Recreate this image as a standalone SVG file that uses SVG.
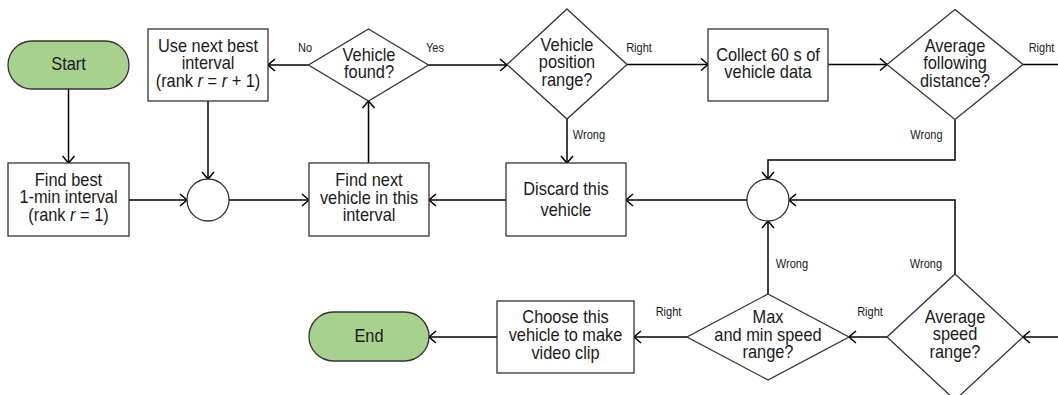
<svg xmlns="http://www.w3.org/2000/svg" width="1058" height="395" viewBox="0 0 1058 395">
<defs>
<style>
.box{fill:#fff;stroke:#333;stroke-width:1.3}
.term{fill:#a9d18e;stroke:#333;stroke-width:1.3}
.c{fill:none;stroke:#000;stroke-width:1.5}
.t{font-family:"Liberation Sans",Arial,sans-serif;font-size:18px;text-anchor:middle;fill:#1a1a1a}
.s{font-family:"Liberation Sans",Arial,sans-serif;font-size:12px;text-anchor:middle;fill:#1a1a1a}
.i{font-style:italic}
</style>
<marker id="arr" viewBox="0 0 10 14" markerWidth="10" markerHeight="14" refX="8.5" refY="7" orient="auto" markerUnits="userSpaceOnUse">
<path d="M1.5,1 L8.5,7 L1.5,13" fill="none" stroke="#000" stroke-width="1.5"/>
</marker>
</defs>
<rect width="1058" height="395" fill="#fff"/>

<g id="connectors">
<path class="c" d="M68.5,89 V163" marker-end="url(#arr)"/>
<path class="c" d="M129,200 H187" marker-end="url(#arr)"/>
<path class="c" d="M208,101 V179" marker-end="url(#arr)"/>
<path class="c" d="M229,200 H309" marker-end="url(#arr)"/>
<path class="c" d="M368.5,163 V101" marker-end="url(#arr)"/>
<path class="c" d="M308.5,65 H268" marker-end="url(#arr)"/>
<path class="c" d="M428.5,65 H507" marker-end="url(#arr)"/>
<path class="c" d="M627,64.5 H708" marker-end="url(#arr)"/>
<path class="c" d="M567,119 V163" marker-end="url(#arr)"/>
<path class="c" d="M506,200 H429" marker-end="url(#arr)"/>
<path class="c" d="M828,64.5 H887" marker-end="url(#arr)"/>
<path class="c" d="M1023,64.5 H1058"/>
<path class="c" d="M955,119.5 V160 H768 V179" marker-end="url(#arr)"/>
<path class="c" d="M747,200 H626" marker-end="url(#arr)"/>
<path class="c" d="M955,274 V200 H789" marker-end="url(#arr)"/>
<path class="c" d="M768,294 V221" marker-end="url(#arr)"/>
<path class="c" d="M1058,337 H1023" marker-end="url(#arr)"/>
<path class="c" d="M887,337 H849" marker-end="url(#arr)"/>
<path class="c" d="M687,337 H634" marker-end="url(#arr)"/>
<path class="c" d="M497,337 H429" marker-end="url(#arr)"/>
<text class="s" transform="translate(305,0) scale(.92,1)"><tspan x="0" y="52">No</tspan></text>
<text class="s" transform="translate(435,0) scale(.92,1)"><tspan x="0" y="52">Yes</tspan></text>
<text class="s" transform="translate(639,0) scale(.92,1)"><tspan x="0" y="52">Right</tspan></text>
<text class="s" transform="translate(1041.5,0) scale(.92,1)"><tspan x="0" y="52">Right</tspan></text>
<text class="s" transform="translate(589,0) scale(.92,1)"><tspan x="0" y="139.5">Wrong</tspan></text>
<text class="s" transform="translate(926.5,0) scale(.92,1)"><tspan x="0" y="139.5">Wrong</tspan></text>
<text class="s" transform="translate(792,0) scale(.92,1)"><tspan x="0" y="268">Wrong</tspan></text>
<text class="s" transform="translate(926,0) scale(.92,1)"><tspan x="0" y="268">Wrong</tspan></text>
<text class="s" transform="translate(870,0) scale(.92,1)"><tspan x="0" y="316.5">Right</tspan></text>
<text class="s" transform="translate(668.5,0) scale(.92,1)"><tspan x="0" y="316.5">Right</tspan></text>
</g>

<g id="start">
<rect class="term" x="8" y="41" width="121" height="48" rx="24" ry="24"/>
<text class="t" transform="translate(68.5,0) scale(.91,1)"><tspan x="0" y="70.5">Start</tspan></text>
</g>

<g id="find-best">
<rect class="box" x="8" y="163" width="121" height="73"/>
<text class="t" transform="translate(68.5,0) scale(.91,1)"><tspan x="0" y="186">Find best</tspan><tspan x="0" y="203.5">1-min interval</tspan><tspan x="0" y="221">(rank <tspan class="i">r</tspan> = 1)</tspan></text>
</g>

<g id="use-next">
<rect class="box" x="148" y="29" width="120" height="72"/>
<text class="t" transform="translate(208,0) scale(.91,1)"><tspan x="0" y="52">Use next best</tspan><tspan x="0" y="69.5">interval</tspan><tspan x="0" y="87">(rank <tspan class="i">r</tspan> = <tspan class="i">r</tspan> + 1)</tspan></text>
</g>

<g id="merge1">
<circle class="box" cx="208" cy="200" r="21"/>
</g>

<g id="vehicle-found">
<polygon class="box" points="368.5,29 428.5,65 368.5,101 308.5,65"/>
<text class="t" transform="translate(369,0) scale(.91,1)"><tspan x="0" y="61">Vehicle</tspan><tspan x="0" y="78">found?</tspan></text>
</g>

<g id="find-next">
<rect class="box" x="309" y="163" width="120" height="73"/>
<text class="t" transform="translate(369,0) scale(.91,1)"><tspan x="0" y="186.5">Find next</tspan><tspan x="0" y="204">vehicle in this</tspan><tspan x="0" y="221.5">interval</tspan></text>
</g>

<g id="vehicle-position">
<polygon class="box" points="567,9 627,64.5 567,119 507,64.5"/>
<text class="t" transform="translate(567,0) scale(.91,1)"><tspan x="0" y="51">Vehicle</tspan><tspan x="0" y="68.5">position</tspan><tspan x="0" y="86">range?</tspan></text>
</g>

<g id="discard">
<rect class="box" x="506" y="163" width="120" height="73"/>
<text class="t" transform="translate(566,0) scale(.91,1)"><tspan x="0" y="195">Discard this</tspan><tspan x="0" y="216.5">vehicle</tspan></text>
</g>

<g id="collect">
<rect class="box" x="708" y="29" width="120" height="72"/>
<text class="t" transform="translate(768,0) scale(.91,1)"><tspan x="0" y="61">Collect 60 s of</tspan><tspan x="0" y="78.5">vehicle data</tspan></text>
</g>

<g id="avg-following">
<polygon class="box" points="955,9.5 1023,64.5 955,119.5 887,64.5"/>
<text class="t" transform="translate(955,0) scale(.91,1)"><tspan x="0" y="52">Average</tspan><tspan x="0" y="69.5">following</tspan><tspan x="0" y="87">distance?</tspan></text>
</g>

<g id="merge2">
<circle class="box" cx="768" cy="200" r="21"/>
</g>

<g id="avg-speed">
<polygon class="box" points="955,274 1023,337 955,400 887,337"/>
<text class="t" transform="translate(955,0) scale(.91,1)"><tspan x="0" y="323">Average</tspan><tspan x="0" y="340.5">speed</tspan><tspan x="0" y="358">range?</tspan></text>
</g>

<g id="max-min-speed">
<polygon class="box" points="768,294 849,337 768,380 687,337"/>
<text class="t" transform="translate(768,0) scale(.91,1)"><tspan x="0" y="323">Max</tspan><tspan x="0" y="341">and min speed</tspan><tspan x="0" y="358.5">range?</tspan></text>
</g>

<g id="choose">
<rect class="box" x="497" y="301" width="137" height="72"/>
<text class="t" transform="translate(565.5,0) scale(.91,1)"><tspan x="0" y="323">Choose this</tspan><tspan x="0" y="341">vehicle to make</tspan><tspan x="0" y="359">video clip</tspan></text>
</g>

<g id="end">
<rect class="term" x="309" y="312" width="120" height="49" rx="24.5" ry="24.5"/>
<text class="t" transform="translate(369,0) scale(.91,1)"><tspan x="0" y="342">End</tspan></text>
</g>
</svg>
